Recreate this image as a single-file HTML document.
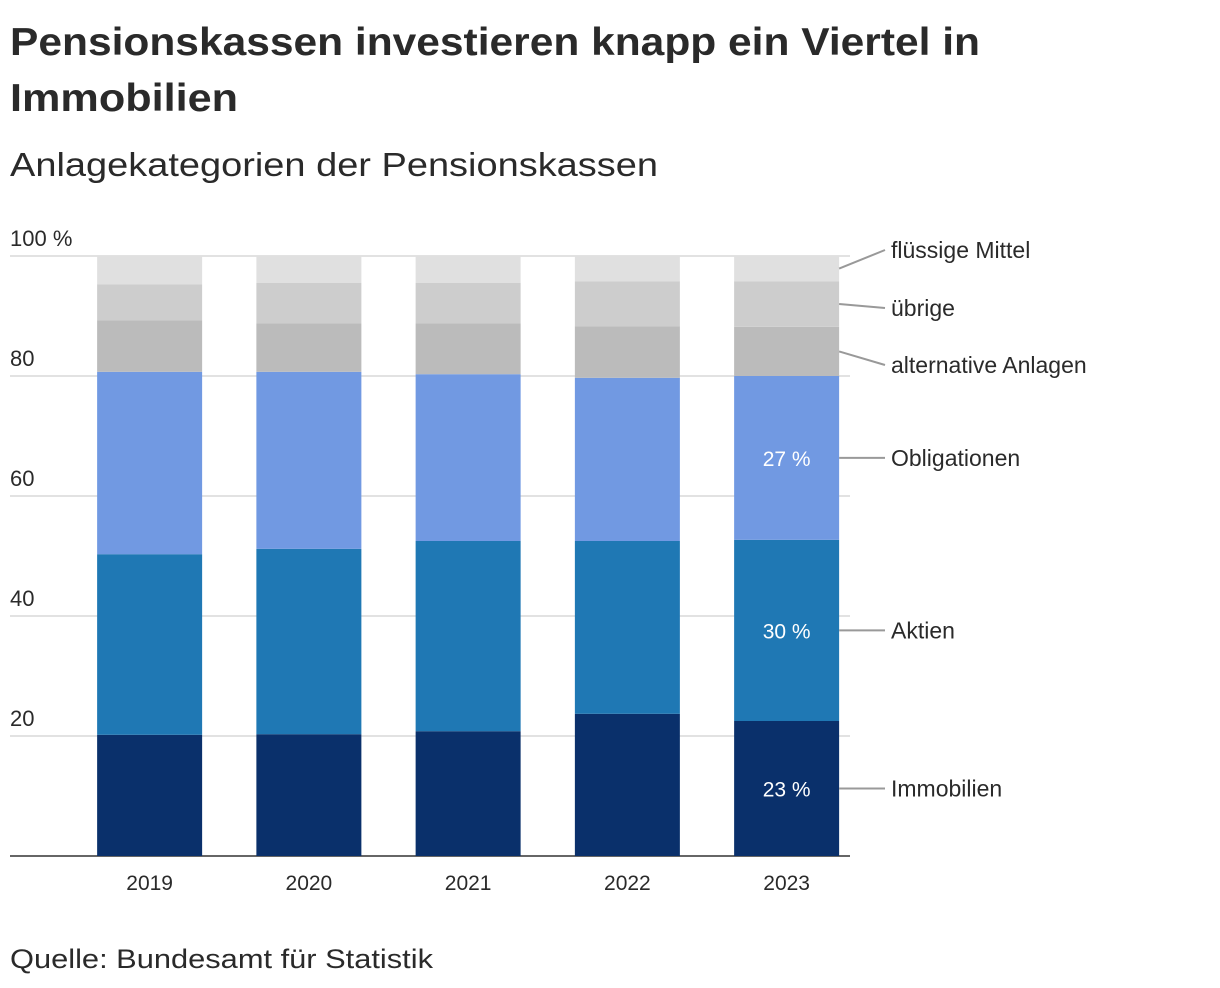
<!DOCTYPE html>
<html><head><meta charset="utf-8"><style>
body{margin:0;background:#fff;font-family:"Liberation Sans",sans-serif;color:#222}
svg{display:block}
</style></head><body>
<svg id="chart" width="1220" height="988">
<text x="10" y="55" font-size="39" font-weight="bold" fill="#2a2a2a" textLength="970" lengthAdjust="spacingAndGlyphs">Pensionskassen investieren knapp ein Viertel in</text>
<text x="10" y="111" font-size="39" font-weight="bold" fill="#2a2a2a" textLength="228" lengthAdjust="spacingAndGlyphs">Immobilien</text>
<text x="10" y="176" font-size="33" fill="#2a2a2a" textLength="648" lengthAdjust="spacingAndGlyphs">Anlagekategorien der Pensionskassen</text>
<text x="10" y="968" font-size="27" fill="#2a2a2a" textLength="423" lengthAdjust="spacingAndGlyphs">Quelle: Bundesamt für Statistik</text>
<g id="grid"></g><g id="bars"></g><g id="labels"></g>
</svg>
<script>
const years=["2019","2020","2021","2022","2023"];
const categories=["Immobilien","Aktien","Obligationen","alternative Anlagen","übrige","flüssige Mittel"];
const immobilien=[20.2,20.3,20.8,23.7,22.5];
const aktien=[30.1,30.9,31.7,28.8,30.2];
const obligationen=[30.4,29.5,27.8,27.2,27.3];
const alternative=[8.6,8.1,8.5,8.6,8.2];
const uebrige=[6.0,6.7,6.7,7.5,7.6];
const fluessig=[4.7,4.5,4.5,4.2,4.2];
const ticks=[0,20,40,60,80,100];
const tickLabels=["","20","40","60","80","100 %"];
const series=[immobilien,aktien,obligationen,alternative,uebrige,fluessig];
const colors=["#0a306b","#1f78b4","#7199e2","#bbbbbb","#cdcdcd","#e0e0e0"];
const NS="http://www.w3.org/2000/svg";
const y=v=>856-v*6;
const x0=70,band=159.25,bw=105;
const x=i=>x0+i*band+(band-bw)/2;
function el(t,a,p){const e=document.createElementNS(NS,t);for(const k in a)e.setAttribute(k,a[k]);document.getElementById(p).appendChild(e);return e;}
ticks.forEach((t,i)=>{
  if(t>0){const l=el("line",{x1:10,x2:850,y1:y(t),y2:y(t),stroke:"#d9d9d9","stroke-width":1.5},"grid");
  
  }
  const tx=el("text",{x:10,y:y(t)-10,"font-size":22,fill:"#2a2a2a"},"grid");tx.textContent=tickLabels[i];
  
  
});
years.forEach((yr,i)=>{
  let cum=0;
  series.forEach((s,k)=>{
    const r=el("rect",{x:x(i),width:bw,y:y(cum+s[i]),height:s[i]*6,fill:colors[k]},"bars");
    
    
    cum+=s[i];
  });
  const t=el("text",{x:x(i)+bw/2,y:890,"font-size":21,"text-anchor":"middle",fill:"#2a2a2a"},"labels");t.textContent=yr;
  
  
});
const ax=el("line",{x1:10,x2:850,y1:856,y2:856,stroke:"#333","stroke-width":1.5},"grid");


const last=years.length-1;let cum=0;const mids=[];
series.forEach(s=>{mids.push(y(cum+s[last]/2));cum+=s[last];});
const labelY=[mids[0],mids[1],mids[2],365,308,250];
categories.forEach((c,k)=>{
  const ln=el("line",{x1:x(last)+bw,y1:mids[k],x2:885,y2:labelY[k],stroke:"#999","stroke-width":2},"labels");
  
  
  const t=el("text",{x:891,y:labelY[k]+8,"font-size":23,fill:"#2a2a2a"},"labels");t.textContent=c;
  
  
  if(k<3){const v=el("text",{x:x(last)+bw/2,y:mids[k]+8,"font-size":21,"text-anchor":"middle",fill:"#fff"},"labels");
    v.textContent=Math.round(series[k][last])+" %";
    
    }
});
</script>
</body></html>
